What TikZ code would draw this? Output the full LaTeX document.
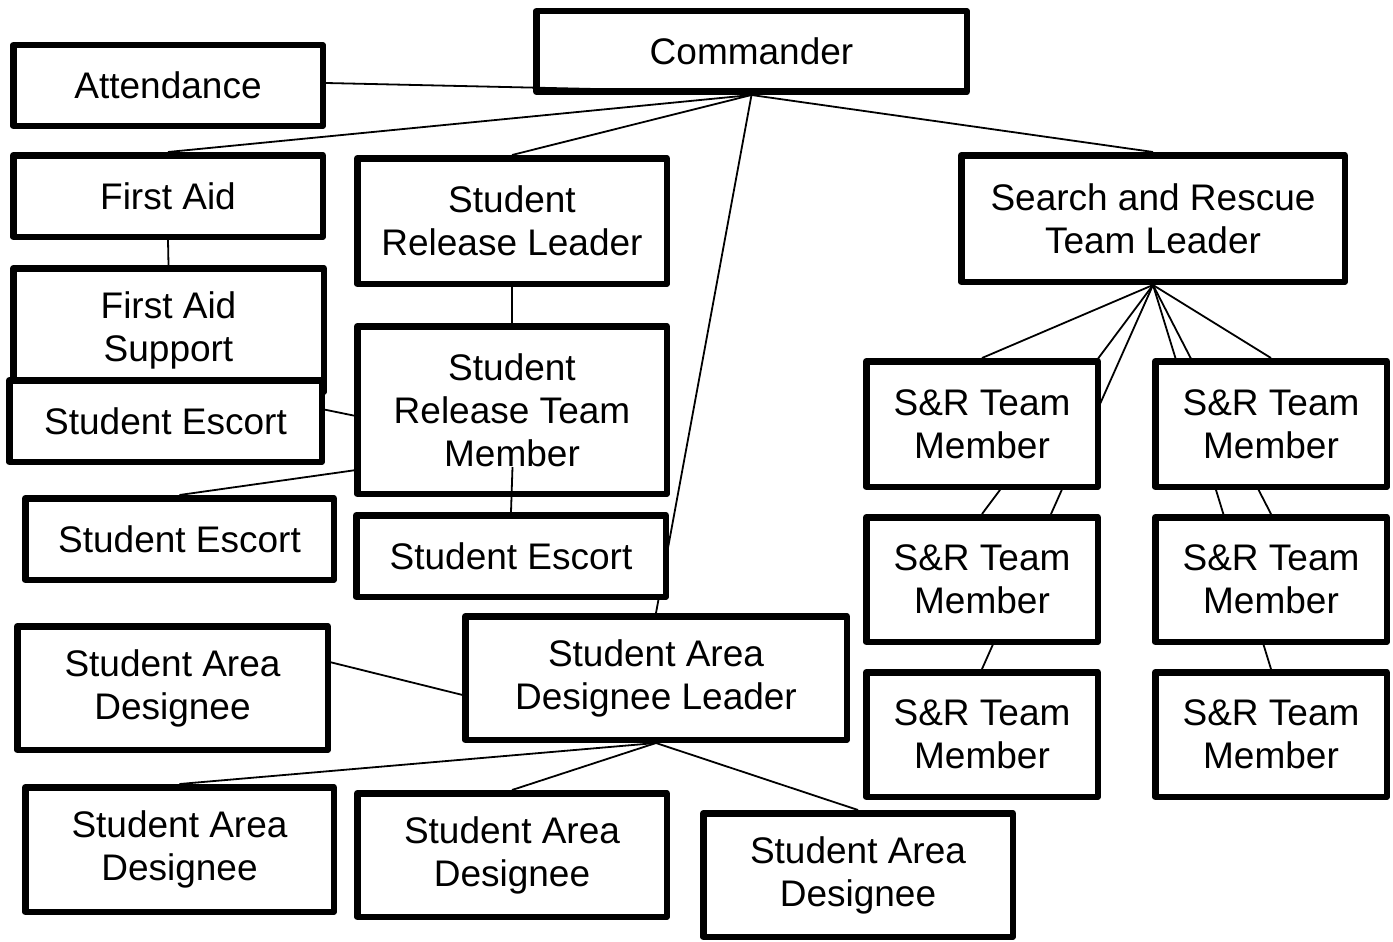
\documentclass[tikz,border=0pt]{standalone}
\usepackage{fontspec}
\setmainfont{Liberation Sans}
\usetikzlibrary{calc}
\pgfdeclarelayer{bgzero}
\pgfdeclarelayer{bgone}
\pgfsetlayers{bgzero,bgone,main}
\begin{document}
\begin{tikzpicture}[x=1pt,y=-1pt,
  box/.style={draw=black,fill=white,line width=6.5pt,line join=round,rectangle,
    inner sep=0pt,align=center,font=\fontsize{37}{43}\selectfont},
  conn/.style={draw=black,line width=1.8pt}]
\begin{pgfonlayer}{bgzero}
\fill[white] (0,0) rectangle (1393,942);
\end{pgfonlayer}
\path[use as bounding box] (0,0) rectangle (1393,942);

\begin{scope}[every node/.append style={box}]
\path
 (751.5,51.5) node[minimum width=430.5pt,minimum height=80.5pt] (cmd) {Commander}
 (168,85.5)   node[minimum width=309.5pt,minimum height=80.5pt] (att) {Attendance}
 (168,196)    node[minimum width=309.5pt,minimum height=81.5pt] (fa) {First Aid}
 (168.5,330)  node[minimum width=310.5pt,minimum height=123.5pt] (fas) {First Aid\\Support}
 (165.5,421)  node[minimum width=312.5pt,minimum height=81.5pt] (esc1) {Student Escort}
 (512,221)    node[minimum width=309.5pt,minimum height=125.5pt] (srl) {Student\\Release Leader}
 (512,410)    node[minimum width=309.5pt,minimum height=167.5pt] (srtm) {Student\\Release Team\\Member}
 (179.5,539)  node[minimum width=308.5pt,minimum height=81.5pt] (esc2) {Student Escort}
 (511,556)    node[minimum width=309.5pt,minimum height=81.5pt] (esc3) {Student Escort}
 (172.5,688)  node[minimum width=310.5pt,minimum height=123.5pt] (sadL) {Student Area\\Designee}
 (656,678)    node[minimum width=381.5pt,minimum height=123.5pt] (sadl) {Student Area\\Designee Leader}
 (179.5,849.5) node[minimum width=308.5pt,minimum height=124.5pt] (sad1) {Student Area\\Designee}
 (512,855)    node[minimum width=309.5pt,minimum height=123.5pt] (sad2) {Student Area\\Designee}
 (858,875)    node[minimum width=309.5pt,minimum height=123.5pt] (sad3) {Student Area\\Designee}
 (1153,218.5) node[minimum width=383.5pt,minimum height=126.5pt] (srtl) {Search and Rescue\\Team Leader}
 (982,424)    node[minimum width=231.5pt,minimum height=125.5pt] (m11) {S\&R Team\\Member}
 (982,579.5)  node[minimum width=231.5pt,minimum height=124.5pt] (m12) {S\&R Team\\Member}
 (982,734.5)  node[minimum width=231.5pt,minimum height=124.5pt] (m13) {S\&R Team\\Member}
 (1271,424)   node[minimum width=231.5pt,minimum height=125.5pt] (m21) {S\&R Team\\Member}
 (1271,579.5) node[minimum width=231.5pt,minimum height=124.5pt] (m22) {S\&R Team\\Member}
 (1271,734.5) node[minimum width=231.5pt,minimum height=124.5pt] (m23) {S\&R Team\\Member};
\end{scope}

\coordinate (srtmhub) at (512,448);
\coordinate (srtmtail) at (512.5,467);

\begin{pgfonlayer}{bgone}
\path[conn] (cmd.south) -- (fa.north);
\path[conn] (cmd.south) -- (srl.north);
\path[conn] (cmd.south) -- (sadl.north);
\path[conn] (cmd.south) -- (srtl.north);
\path[conn] (fa.south) -- (fas.north);
\path[conn] (srl.south) -- (srtm.north);
\path[conn] (esc1.north) -- (srtmhub);
\path[conn] (esc2.north) -- (srtmhub);
\path[conn,shorten >=4pt] (sadl.south) -- (sadL.north);
\path[conn] (sadl.south) -- (sad1.north);
\path[conn] (sadl.south) -- (sad2.north);
\path[conn] (sadl.south) -- (sad3.north);
\foreach \m in {m11,m12,m13,m21,m22,m23}
  \path[conn] (srtl.south) -- (\m.north);
\end{pgfonlayer}

\path[conn] ($(att.east)+(0,-2.5)$) -- ($(cmd.south)+(0,-2.5)$);
\path[conn] (srtmtail) -- (esc3.north);
\end{tikzpicture}
\end{document}
